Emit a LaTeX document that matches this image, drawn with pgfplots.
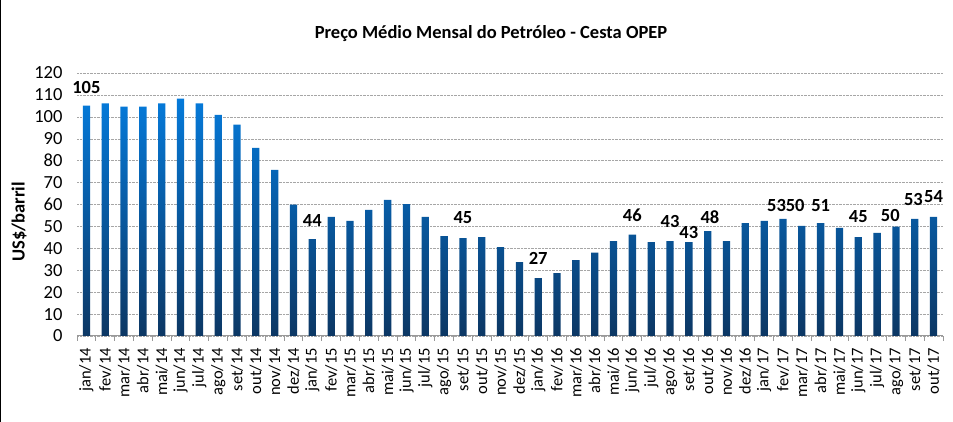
\documentclass[border=0pt]{standalone}
\usepackage{pgfplots}
\pgfplotsset{compat=1.18}
\usepackage{fontspec}
\setmainfont{Carlito}
\definecolor{bartop}{RGB}{5,122,218}
\definecolor{barbot}{RGB}{12,55,100}
\begin{document}
\begin{tikzpicture}
\useasboundingbox (0,0) rectangle (953pt,422pt);
\draw[black, line width=1pt] (0.5pt,0) -- (0.5pt,422pt);
\node[font=\bfseries\fontsize{18.5}{20}\selectfont] at (491pt,388pt) {Preço Médio Mensal do Petróleo - Cesta OPEP};
\node[font=\bfseries\fontsize{18.5}{20}\selectfont, rotate=90] at (19pt,200pt) {US\$/barril};
\begin{axis}[
  at={(77pt,86pt)}, anchor=south west,
  scale only axis, width=866pt, height=263pt,
  xmin=-0.5, xmax=45.5, ymin=0, ymax=120,
  axis x line*=bottom, axis y line*=left,
  x axis line style={-, draw=gray!80, line width=1pt},
  y axis line style={draw=none},
  ytick={0,10,...,120},
  ytick style={draw=none},
  ymajorgrids, major grid style={densely dotted, gray!70},
  xtick={0,...,45},
  xticklabels={jan/14,fev/14,mar/14,abr/14,mai/14,jun/14,jul/14,ago/14,set/14,out/14,nov/14,dez/14,
    jan/15,fev/15,mar/15,abr/15,mai/15,jun/15,jul/15,ago/15,set/15,out/15,nov/15,dez/15,
    jan/16,fev/16,mar/16,abr/16,mai/16,jun/16,jul/16,ago/16,set/16,out/16,nov/16,dez/16,
    jan/17,fev/17,mar/17,abr/17,mai/17,jun/17,jul/17,ago/17,set/17,out/17},
  major tick length=0pt,
  minor xtick={-0.5,0.5,...,45.5},
  minor tick length=5pt, tick align=outside,
  minor x tick style={draw=gray!80, line width=1pt},
  xticklabel shift=8.5pt,
  xticklabel style={rotate=90, anchor=east, font=\fontsize{16.5}{18}\selectfont},
  yticklabel style={font=\fontsize{18.5}{20}\selectfont, xshift=-11pt},
  /pgf/number format/assume math mode=true,
  clip=false,
]
\addplot[ybar, bar width=7.3pt, draw=none, top color=bartop, bottom color=barbot] coordinates {
(0,105.1) (1,106.1) (2,104.6) (3,104.6) (4,106.1) (5,108.3) (6,106.1) (7,100.9) (8,96.4) (9,85.8)
(10,75.8) (11,59.9) (12,44.2) (13,54.4) (14,52.5) (15,57.5) (16,62.1) (17,60.2) (18,54.3) (19,45.6)
(20,44.7) (21,45.1) (22,40.6) (23,33.7) (24,26.4) (25,28.7) (26,34.6) (27,38.0) (28,43.3) (29,46.2)
(30,42.8) (31,43.3) (32,42.8) (33,47.9) (34,43.3) (35,51.5) (36,52.5) (37,53.4) (38,50.2) (39,51.5)
(40,49.3) (41,45.1) (42,47.0) (43,49.9) (44,53.4) (45,54.3)
};
\addplot[draw=none, mark=none, nodes near coords, point meta=explicit symbolic,
  nodes near coords style={anchor=center, font=\bfseries\fontsize{18.5}{20}\selectfont, inner sep=0pt}] coordinates {
(0,113.6) [105]
(12,52.9) [44]
(20,54.1) [45]
(24,35.4) [27]
(29,55.2) [46]
(31,52.1) [43]
(32,47.3) [43]
(33.12,54.4) [48]
(36.66,59.5) [53]
(37.65,59.5) [50]
(39,59.5) [51]
(41,54.4) [45]
(42.7,55.2) [50]
(43.93,62.1) [53]
(45,63.6) [54]
};
\end{axis}
\end{tikzpicture}
\end{document}
